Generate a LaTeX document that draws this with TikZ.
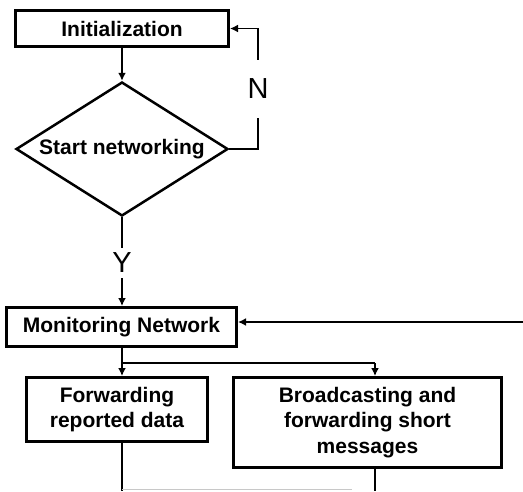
\documentclass[tikz,border=0pt]{standalone}
\usepackage{fontspec}
\setmainfont{Liberation Sans}
\usepackage{xcolor}
\usetikzlibrary{shapes.geometric,arrows.meta}
\definecolor{fdark}{HTML}{000000}
\definecolor{flight}{HTML}{c8c8c8}

\tikzset{
	procbox/.style={draw=fdark, line width=3pt, rectangle, inner sep=0pt, align=center, font=\fontsize{21}{25.5}\selectfont\bfseries},
	decision/.style={draw=fdark, line width=2.5pt, diamond, aspect=1.56, inner sep=0pt, font=\fontsize{21}{25.5}\selectfont\bfseries},
	flowlabel/.style={inner sep=0pt, font=\fontsize{29}{30}\selectfont},
	flow/.style={draw=fdark, line width=1.8pt},
	flowarrow/.style={flow, -{Latex[length=8pt,width=8pt]}}
}

\begin{document}
\begin{tikzpicture}[x=1pt, y=-1pt]
		\useasboundingbox (0,0) rectangle (523,491);
		\node[procbox, minimum width=213pt, minimum height=36pt] (init) at (122,28.5) {Initialization};
		\node[decision, minimum width=212pt, minimum height=134pt] (start) at (122,149) {Start networking};
		\node[procbox, minimum width=230pt, minimum height=39pt] (monitor) at (121.5,327) {Monitoring Network};
		\node[procbox, minimum width=181pt, minimum height=64pt] (fwd) at (117,409.5) {Forwarding\\reported data};
		\node[procbox, minimum width=268pt, minimum height=90pt] (bcast) at (367.5,422.5) {Broadcasting and\\forwarding short\\messages};
		\node[flowlabel, minimum height=58pt] (nlab) at (258,89) {N};
		\node[flowlabel, minimum height=30pt] (ylab) at (122,263) {Y};
		\coordinate (fork) at (122,363);
		\coordinate (forkR) at (375,363);
		\coordinate (loopin) at (523,322);
		\coordinate (cutL) at (122,491);
		\coordinate (cutR) at (375,491);
		\draw[flowarrow] (init.south) -- (start.north);
		\draw[flow] (start.east) -| (nlab.south);
		\draw[flowarrow] (nlab.north) |- (init.east);
		\draw[flow] (start.south) -- (ylab.north);
		\draw[flowarrow] (ylab.south) -- (ylab.south |- monitor.north);
		\draw[flowarrow] (loopin) -- (loopin -| monitor.east);
		\draw[flow] (monitor.south -| fork) -- (fork) -- (forkR);
		\draw[flowarrow] (fork) -- (fork |- fwd.north);
		\draw[flowarrow] (forkR) -- (forkR |- bcast.north);
		\draw[flow] (fork |- fwd.south) -- (cutL);
		\draw[flow] (forkR |- bcast.south) -- (cutR);
		\draw[color=flight, line width=1pt] (122,489.5) -- (352,489.5);
	\end{tikzpicture}
\end{document}
